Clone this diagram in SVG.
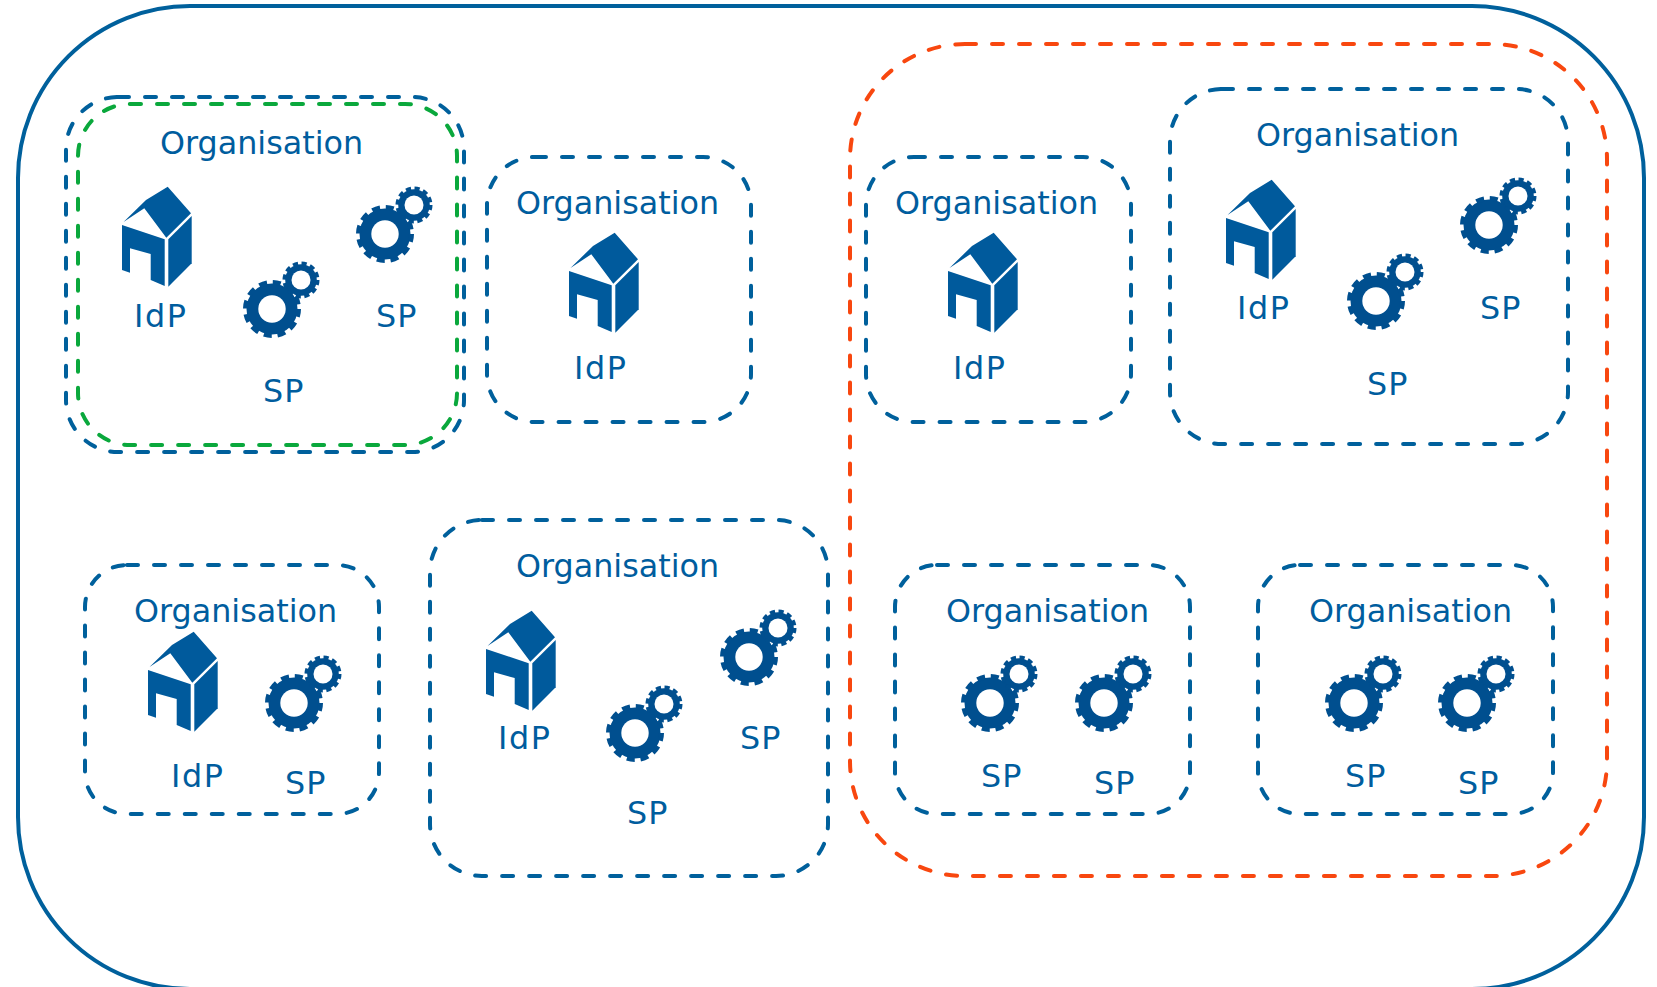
<svg xmlns="http://www.w3.org/2000/svg" width="1657" height="987" viewBox="0 0 1657 987">
<style>
text{font-family:"DejaVu Sans",Verdana,sans-serif;font-size:31.8px;fill:#005d9e}
.i{letter-spacing:1.6px}
.p{letter-spacing:1px}
.b,.g,.r{fill:none;stroke-width:4;stroke-dasharray:11 16;stroke-linecap:round}
.b{stroke:#00609c}
.g{stroke:#0aa83c}
.r{stroke:#f8470f}
</style>
<defs>
<g id="house" fill="#005a9c">
<path d="M23.5 52L46 30L67.7 16.7L91 43.3L66.3 67.7L44.3 38.3Z"/>
<path d="M22 55L64.7 69.3V116L50.7 110V84L30 78.3V102.7L22 100Z"/>
<path d="M68.3 69.3L91.7 46V93.3L68.3 116.7Z"/>
</g>
<g id="gear" fill="#004f8f">
<circle cx="0" cy="0" r="25.5"/>
<circle cx="0" cy="0" r="26.5" fill="none" stroke="#004f8f" stroke-width="5" stroke-dasharray="8 5.875"/>
<circle cx="29" cy="-29" r="15.8"/>
<circle cx="29" cy="-29" r="16.8" fill="none" stroke="#004f8f" stroke-width="3.4" stroke-dasharray="5.2 3.6"/>
<circle cx="0" cy="0" r="13.7" fill="#fff"/>
<circle cx="29" cy="-29" r="9.5" fill="#fff"/>
</g>
</defs>
<rect id="federation" x="18" y="6" width="1626" height="983" rx="172" fill="#fff" stroke="#00609c" stroke-width="4"/>
<g id="connectors"/>
<g id="org1"><rect class="b" x="66" y="97" width="398" height="355" rx="52"/><rect class="g" x="78" y="104" width="379" height="341" rx="52"/><text x="160" y="154">Organisation</text><use href="#house" x="100" y="170"/><use href="#gear" x="272" y="309"/><use href="#gear" x="385" y="234"/><text class="i" x="134" y="327">IdP</text><text class="p" x="263" y="402">SP</text><text class="p" x="376" y="327">SP</text></g>
<g id="org2"><rect class="b" x="487" y="157" width="264" height="265" rx="48"/><text x="516" y="214">Organisation</text><use href="#house" x="547" y="216"/><text class="i" x="574" y="379">IdP</text></g>
<g id="org3"><rect class="b" x="866" y="157" width="265" height="265" rx="48"/><text x="895" y="214">Organisation</text><use href="#house" x="926" y="216"/><text class="i" x="953" y="379">IdP</text></g>
<g id="org4"><rect class="b" x="1170" y="89" width="398" height="355" rx="52"/><text x="1256" y="146">Organisation</text><use href="#house" x="1204" y="163"/><use href="#gear" x="1376" y="301"/><use href="#gear" x="1489" y="225"/><text class="i" x="1237" y="319">IdP</text><text class="p" x="1367" y="395">SP</text><text class="p" x="1480" y="319">SP</text></g>
<g id="org5"><rect class="b" x="85" y="565" width="294" height="249" rx="42"/><text x="134" y="622">Organisation</text><use href="#house" x="126" y="615"/><use href="#gear" x="294" y="703"/><text class="i" x="171" y="787">IdP</text><text class="p" x="285" y="794">SP</text></g>
<g id="org6"><rect class="b" x="430" y="520" width="398" height="356" rx="52"/><text x="516" y="577">Organisation</text><use href="#house" x="464" y="594"/><use href="#gear" x="635" y="733"/><use href="#gear" x="749" y="657"/><text class="i" x="498" y="749">IdP</text><text class="p" x="627" y="824">SP</text><text class="p" x="740" y="749">SP</text></g>
<g id="org7"><rect class="b" x="895" y="565" width="295" height="249" rx="42"/><text x="946" y="622">Organisation</text><use href="#gear" x="990" y="703"/><use href="#gear" x="1104" y="703"/><text class="p" x="981" y="787">SP</text><text class="p" x="1094" y="794">SP</text></g>
<g id="org8"><rect class="b" x="1258" y="565" width="295" height="249" rx="42"/><text x="1309" y="622">Organisation</text><use href="#gear" x="1354" y="703"/><use href="#gear" x="1467" y="703"/><text class="p" x="1345" y="787">SP</text><text class="p" x="1458" y="794">SP</text></g>
<rect id="group-red" class="r" x="850" y="44" width="757" height="832" rx="115"/>
</svg>
